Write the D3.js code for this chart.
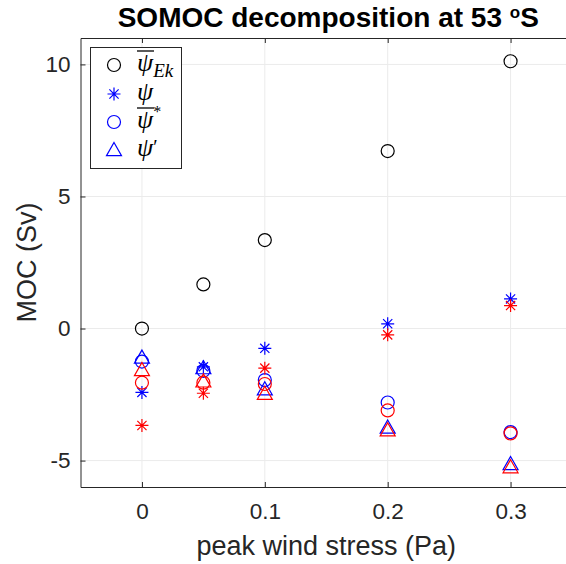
<!DOCTYPE html>
<html><head><meta charset="utf-8">
<script src="https://cdn.jsdelivr.net/npm/d3@7"></script>
<style>body{margin:0;background:#fff;} svg{display:block;}</style>
</head><body>
<svg id="c" width="566" height="564"></svg>
<script>
const windStress = [0, 0.05, 0.1, 0.2, 0.3];
const psiEk      = [0, 1.67, 3.35, 6.72, 10.12];
const bluePsi    = [-2.42, -1.45, -0.75, 0.18, 1.12];
const blueBar    = [-1.25, -1.6, -1.95, -2.8, -3.92];
const bluePrime  = [-1.1, -1.5, -2.3, -3.75, -5.13];
const redPsi     = [-3.67, -2.45, -1.5, -0.24, 0.87];
const redBar     = [-2.05, -2.05, -2.1, -3.1, -3.97];
const redPrime   = [-1.57, -2.0, -2.47, -3.85, -5.25];
const xTicks = [0, 0.1, 0.2, 0.3];
const yTicks = [-5, 0, 5, 10];

const svg = d3.select("#c");
const L = 80.5, R = 572, T = 38, B = 487;
const x = d3.scaleLinear().domain([-0.05, 0.35]).range([L, R]);
const y = d3.scaleLinear().domain([-6, 11]).range([B, T]);
const axisCol = "#262626";
const font = "Liberation Sans, Arial, Helvetica, sans-serif";

// grid
svg.append("g").selectAll("line").data(xTicks).join("line")
  .attr("x1", d => x(d)).attr("x2", d => x(d)).attr("y1", T).attr("y2", B)
  .attr("stroke", "#ebebeb").attr("stroke-width", 1);
svg.append("g").selectAll("line").data(yTicks).join("line")
  .attr("y1", d => y(d)).attr("y2", d => y(d)).attr("x1", L).attr("x2", R)
  .attr("stroke", "#ebebeb").attr("stroke-width", 1);

// axes
const xAxis = d3.axisBottom(x).tickValues(xTicks).tickSizeInner(-5).tickSizeOuter(0).tickPadding(16)
  .tickFormat(d => d === 0 ? "0" : d3.format(".1f")(d));
const gx = svg.append("g").attr("transform", `translate(0,${B})`).call(xAxis);
const yAxis = d3.axisLeft(y).tickValues(yTicks).tickSizeInner(-5).tickSizeOuter(0).tickPadding(10)
  .tickFormat(d => String(d));
const gy = svg.append("g").attr("transform", `translate(${L},0)`).call(yAxis);
svg.append("g").attr("transform", `translate(0,${T})`).call(d3.axisTop(x).tickValues(xTicks).tickSizeInner(-5).tickSizeOuter(0).tickFormat(""));
svg.append("g").attr("transform", `translate(${R},0)`).call(d3.axisRight(y).tickValues(yTicks).tickSizeInner(-5).tickSizeOuter(0).tickFormat(""));
for (const g of [gx, gy]) {
  g.selectAll("text").attr("font-family", font).attr("font-size", 22.5).attr("fill", axisCol);
}
svg.selectAll(".domain").attr("stroke", axisCol);
svg.selectAll(".tick line").attr("stroke", axisCol);
gx.selectAll("text").attr("dy", "0.71em");

// labels
svg.append("text").attr("x", (L + R) / 2).attr("y", 555).attr("text-anchor", "middle")
  .attr("font-family", font).attr("font-size", 27).attr("fill", axisCol).text("peak wind stress (Pa)");
svg.append("text").attr("transform", `translate(36,${(T + B) / 2}) rotate(-90)`).attr("text-anchor", "middle")
  .attr("font-family", font).attr("font-size", 27).attr("fill", axisCol).text("MOC (Sv)");
const title = svg.append("text").attr("x", (L + R) / 2 + 2).attr("y", 27).attr("text-anchor", "middle")
  .attr("font-family", font).attr("font-size", 28).attr("font-weight", "bold").attr("fill", "#000");
title.append("tspan").text("SOMOC decomposition at 53 ");
title.append("tspan").attr("dy", -9).attr("font-size", 17).text("o");
title.append("tspan").attr("dy", 9).text("S");

// markers
function drawMarker(g, type, cx, cy, col) {
  if (type === "circle") {
    g.append("circle").attr("cx", cx).attr("cy", cy).attr("r", 6.5)
      .attr("fill", "none").attr("stroke", col).attr("stroke-width", 1.2);
  } else if (type === "star") {
    const s = 6.5, d = 4.6;
    const p = `M${cx - s},${cy}L${cx + s},${cy}M${cx},${cy - s}L${cx},${cy + s}` +
      `M${cx - d},${cy - d}L${cx + d},${cy + d}M${cx - d},${cy + d}L${cx + d},${cy - d}`;
    g.append("path").attr("d", p).attr("stroke", col).attr("stroke-width", 1.2).attr("fill", "none");
  } else if (type === "tri") {
    const s = 7.5;
    g.append("path").attr("d", `M${cx},${cy - s}L${cx + s},${cy + s * 0.75}L${cx - s},${cy + s * 0.75}Z`)
      .attr("stroke", col).attr("stroke-width", 1.2).attr("fill", "none");
  }
}
const series = [
  {vals: psiEk, type: "circle", col: "#000"},
  {vals: bluePsi, type: "star", col: "#0000ff"},
  {vals: blueBar, type: "circle", col: "#0000ff"},
  {vals: bluePrime, type: "tri", col: "#0000ff"},
  {vals: redPsi, type: "star", col: "#ff0000"},
  {vals: redBar, type: "circle", col: "#ff0000"},
  {vals: redPrime, type: "tri", col: "#ff0000"}
];
const gm = svg.append("g");
for (const s of series) {
  s.vals.forEach((v, i) => drawMarker(gm, s.type, x(windStress[i]), y(v), s.col));
}

// legend
const lg = svg.append("g");
lg.append("rect").attr("x", 90.5).attr("y", 47.5).attr("width", 91).attr("height", 121)
  .attr("fill", "#fff").attr("stroke", axisCol).attr("stroke-width", 1);
const rows = [65, 94, 122, 150];
drawMarker(lg, "circle", 114, rows[0], "#000");
drawMarker(lg, "star", 114, rows[1], "#0000ff");
drawMarker(lg, "circle", 114, rows[2], "#0000ff");
drawMarker(lg, "tri", 114, rows[3], "#0000ff");
const serif = "Liberation Serif, DejaVu Serif, serif";
const tx = 137;
function psi(row) {
  return lg.append("text").attr("x", tx).attr("y", row + 6).attr("font-family", serif)
    .attr("font-style", "italic").attr("font-size", 26).attr("fill", "#000");
}
let t0 = psi(rows[0]); t0.append("tspan").text("ψ");
t0.append("tspan").attr("dy", 6).attr("font-size", 19).text("Ek");
lg.append("line").attr("x1", tx).attr("x2", tx + 17).attr("y1", rows[0] - 14).attr("y2", rows[0] - 14).attr("stroke", "#000").attr("stroke-width", 1.3);
psi(rows[1]).text("ψ");
let t2 = psi(rows[2]); t2.append("tspan").text("ψ");
t2.append("tspan").attr("dy", -11).attr("font-size", 16).attr("font-style", "normal").text("*");
lg.append("line").attr("x1", tx).attr("x2", tx + 17).attr("y1", rows[2] - 14).attr("y2", rows[2] - 14).attr("stroke", "#000").attr("stroke-width", 1.3);
let t3 = psi(rows[3]); t3.append("tspan").text("ψ");
t3.append("tspan").attr("font-style", "normal").attr("font-size", 20).attr("dy", -2).text("′");
</script>
</body></html>
